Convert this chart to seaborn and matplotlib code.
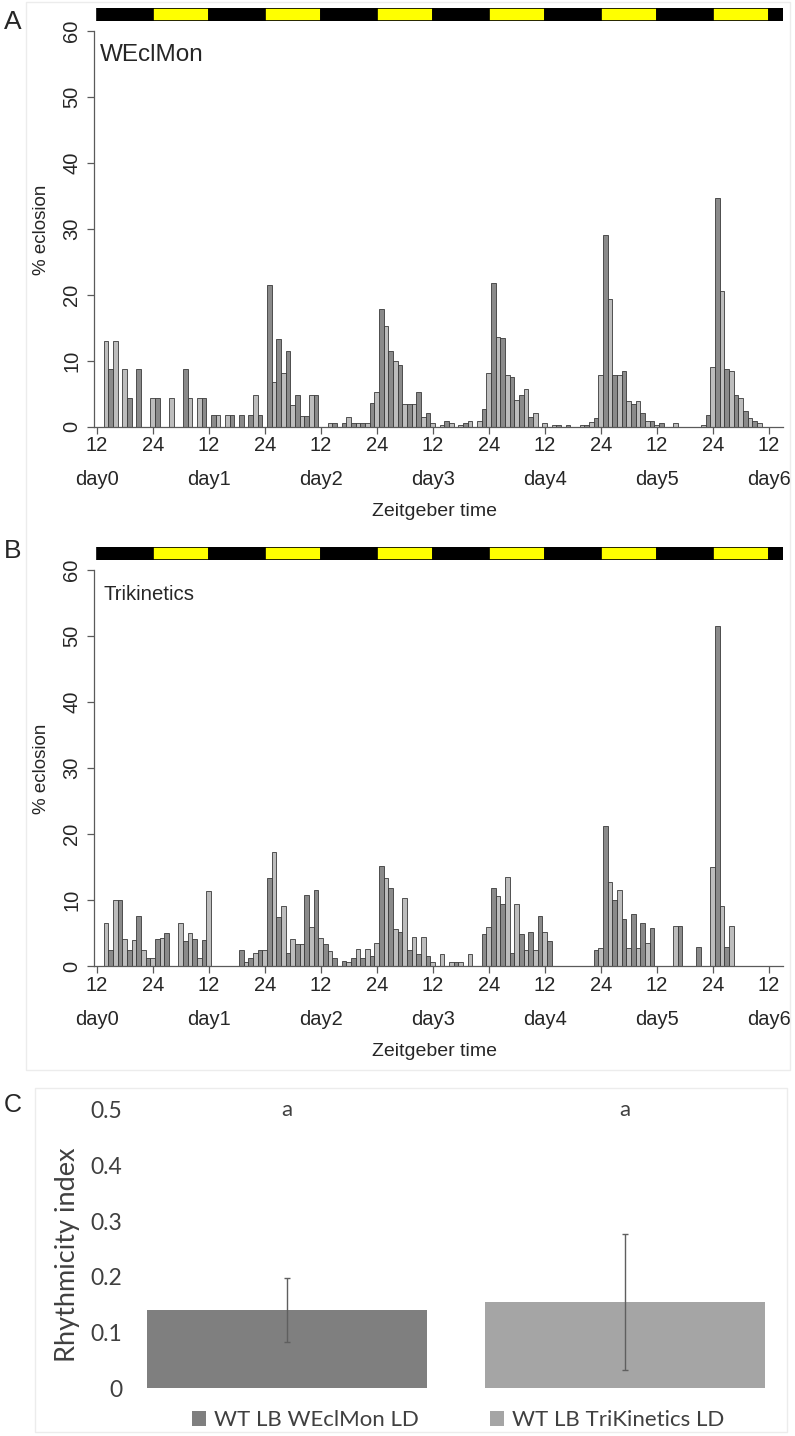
import numpy as np
import pandas as pd
import matplotlib
matplotlib.use("Agg")
import matplotlib.pyplot as plt
from matplotlib.patches import Rectangle, Patch
import seaborn as sns

# ---------------------------------------------------------------
# Hourly eclosion (% of flies), starting at ZT12 of day0.
# One value per hour, 12 values per row (= half a day).
# ---------------------------------------------------------------
weclmon_pct = [
    0, 0, 13.0, 8.7, 13.0, 0, 8.7, 4.3, 0, 8.7, 0, 0,
    4.3, 4.3, 0, 0, 4.3, 0, 0, 8.7, 4.3, 0, 4.3, 4.3,
    0, 1.7, 1.7, 0, 1.7, 1.7, 0, 1.7, 0, 1.7, 4.8, 1.7,
    0, 21.5, 6.7, 13.3, 8.2, 11.5, 3.3, 4.8, 1.6, 1.6, 4.8, 4.8,
    0, 0, 0.5, 0.5, 0, 0.5, 1.5, 0.5, 0.5, 0.5, 0.5, 3.6,
    5.2, 17.9, 15.2, 11.5, 10.0, 9.4, 3.4, 3.4, 3.4, 5.2, 1.5, 2.1,
    0.5, 0, 0.25, 0.9, 0.5, 0, 0.25, 0.6, 0.9, 0, 0.9, 2.7,
    8.2, 21.8, 13.6, 13.5, 7.9, 7.6, 4.0, 4.8, 5.7, 1.5, 2.1, 0,
    0.5, 0, 0.25, 0.25, 0, 0.25, 0, 0, 0.3, 0.3, 0.75, 1.3,
    7.9, 29.0, 19.3, 7.8, 7.8, 8.5, 3.9, 3.4, 3.9, 2.1, 0.9, 0.9,
    0.3, 0.5, 0, 0, 0.5, 0, 0, 0, 0, 0, 0.25, 1.8,
    9.1, 34.6, 20.6, 8.7, 8.4, 4.8, 4.4, 2.4, 1.3, 0.9, 0.5, 0,
]

trikinetics_pct = [
    0, 0, 6.5, 2.5, 10.0, 10.0, 4.1, 2.5, 4.0, 7.6, 2.5, 1.2,
    1.2, 4.1, 4.3, 5.0, 0, 0, 6.5, 3.8, 5.0, 4.1, 1.2, 4.0,
    11.4, 0, 0, 0, 0, 0, 0, 2.5, 0.6, 1.2, 2.0, 2.5,
    2.5, 13.4, 17.3, 7.5, 9.1, 2.0, 4.2, 3.4, 3.4, 10.8, 5.9, 11.6,
    4.3, 3.4, 2.3, 1.2, 0, 0.8, 0.6, 1.2, 2.6, 1.2, 2.6, 1.5,
    3.6, 15.2, 13.4, 11.9, 5.6, 5.2, 10.4, 2.5, 4.5, 1.8, 4.5, 1.5,
    0.6, 0, 1.8, 0, 0.6, 0.6, 0.6, 0, 1.8, 0, 0, 4.9,
    5.9, 11.9, 10.7, 9.5, 13.6, 2.0, 9.5, 4.9, 2.5, 5.2, 2.5, 7.6,
    5.2, 3.8, 0, 0, 0, 0, 0, 0, 0, 0, 0, 2.5,
    2.8, 21.3, 12.7, 10.0, 11.5, 7.2, 2.7, 8.0, 2.7, 6.5, 3.6, 5.8,
    0, 0, 0, 0, 6.1, 6.1, 0, 0, 0, 3.0, 0, 0,
    15.1, 51.5, 9.2, 3.0, 6.1, 0, 0, 0, 0, 0, 0, 0,
]

zt_tick_hours = [0, 12, 24, 36, 48, 60, 72, 84, 96, 108, 120, 132, 144]
zt_tick_labels = ["12", "24", "12", "24", "12", "24", "12", "24",
                  "12", "24", "12", "24", "12"]
day_hours = [0, 24, 48, 72, 96, 120, 144]
day_labels = ["day0", "day1", "day2", "day3", "day4", "day5", "day6"]

# light/dark schedule: night (ZT12-24) black, day (ZT0-12) yellow
ld_starts = [0, 12, 24, 36, 48, 60, 72, 84, 96, 108, 120, 132, 144]
ld_lengths = [12, 12, 12, 12, 12, 12, 12, 12, 12, 12, 12, 12, 3]
ld_colors = ["black", "#ffff00"] * 6 + ["black"]

# Rhythmicity index summary
ri_groups = ["WT LB WEclMon LD", "WT LB TriKinetics LD"]
ri_mean = [0.141, 0.155]
ri_err = [0.057, 0.122]
ri_letters = ["a", "a"]
ri_colors = ["#7f7f7f", "#a5a5a5"]

# ---------------------------------------------------------------
sns.set_theme(style="white")
plt.rcParams["font.family"] = ["Liberation Sans", "DejaVu Sans"]

W, H = 795, 1436
fig = plt.figure(figsize=(W / 100, H / 100), dpi=100)
TXT = "#262626"
AXC = "#5a5a5a"


def axes_px(left, top, right, bottom):
    return fig.add_axes([left / W, 1 - bottom / H, (right - left) / W,
                         (bottom - top) / H])


def text_px(x, y, s, **kw):
    return fig.text(x / W, 1 - y / H, s, **kw)


# faint frames around the panel groups
fig.patches.append(Rectangle((26 / W, 1 - 1070 / H), 764 / W, 1068 / H,
                             transform=fig.transFigure, fill=False,
                             edgecolor="#ececec", linewidth=1))
fig.patches.append(Rectangle((35 / W, 1 - 1432 / H), 752 / W, 344 / H,
                             transform=fig.transFigure, fill=False,
                             edgecolor="#ececec", linewidth=1))

X_LEFT, X_RIGHT = 94, 783
HOUR_PX = 4.667
XMIN = (X_LEFT - 96.7) / HOUR_PX
XMAX = (X_RIGHT - 96.7) / HOUR_PX


def hist_panel(values, y0, ld_top, title, title_size, letter, letter_y):
    y60 = y0 - 396
    ax = axes_px(X_LEFT, y60, X_RIGHT, y0)
    df = pd.DataFrame({"hour": np.arange(len(values)),
                       "pct": np.asarray(values, dtype=float)})
    df["shade"] = np.where(df["hour"] % 2 == 0, "light", "dark")
    df = df[df["pct"] > 0]
    sns.barplot(data=df, x="hour", y="pct", hue="shade",
                palette={"light": "#bdbdbd", "dark": "#8a8a8a"},
                native_scale=True, dodge=False, width=1.0,
                edgecolor="#3a3a3a", linewidth=0.6, errorbar=None,
                legend=False, ax=ax)
    ax.set_xlim(XMIN, XMAX)
    ax.set_ylim(0, 60)
    ax.set_xlabel("")
    ax.set_ylabel("")
    for s in ("top", "right"):
        ax.spines[s].set_visible(False)
    for s in ("left", "bottom"):
        ax.spines[s].set_color(AXC)
        ax.spines[s].set_linewidth(0.9)
    ax.spines["left"].set_bounds(0, 60)

    ax.set_xticks(zt_tick_hours)
    ax.set_xticklabels(zt_tick_labels, fontsize=14.5, color=TXT)
    ax.set_yticks(np.arange(0, 61, 10))
    ax.set_yticklabels([str(v) for v in range(0, 61, 10)], rotation=90,
                       va="center", fontsize=14.5, color=TXT)
    ax.tick_params(axis="both", direction="out", length=5, width=0.9,
                   color=AXC, bottom=True, left=True)
    ax.tick_params(axis="x", pad=2)
    ax.tick_params(axis="y", pad=4)

    for h, lab in zip(day_hours, day_labels):
        ax.annotate(lab, xy=(h, 0), xycoords=("data", "axes fraction"),
                    xytext=(0, -53 * 0.72), textcoords="offset points",
                    ha="center", va="center", fontsize=14.5, color=TXT)
    text_px(434, y0 + 85, "Zeitgeber time", ha="center", va="center",
            fontsize=14, color=TXT)
    text_px(42, y0 - 197, "% eclosion", rotation=90, ha="center",
            va="center", fontsize=13.5, color=TXT)
    text_px(100 if title == "WEclMon" else 103, y60 + 24, title,
            ha="left", va="center", fontsize=title_size, color=TXT)
    text_px(13, letter_y, letter, ha="center", va="center", fontsize=19,
            color=TXT)

    # light/dark schedule bar above the histogram
    ax_ld = axes_px(X_LEFT, ld_top, X_RIGHT, ld_top + 13)
    ax_ld.barh(y=[0.5] * len(ld_starts), width=ld_lengths, left=ld_starts,
               height=1.0, color=ld_colors, edgecolor="black",
               linewidth=1.2)
    ax_ld.set_xlim(XMIN, XMAX)
    ax_ld.set_ylim(0, 1)
    ax_ld.axis("off")
    return ax


hist_panel(weclmon_pct, 426.7, 7.5, "WEclMon", 17.5, "A", 22)
hist_panel(trikinetics_pct, 966.3, 546.5, "Trikinetics", 14.7, "B", 551)

# ---------------------------------------------------------------
# Panel C: rhythmicity index
# ---------------------------------------------------------------
CFONT = ["Lato", "DejaVu Sans"]
axc = axes_px(135, 1110, 770, 1388.3)
ri_df = pd.DataFrame({"group": ri_groups, "ri": ri_mean})
sns.barplot(data=ri_df, x="group", y="ri", hue="group",
            palette=dict(zip(ri_groups, ri_colors)), width=0.83,
            errorbar=None, legend=False, linewidth=0, ax=axc)
axc.errorbar(range(len(ri_groups)), ri_mean, yerr=ri_err, fmt="none",
             ecolor="#5f5f5f", elinewidth=1.0, capsize=2.5, capthick=1.0)
axc.set_xlim((135 - 287) / 338, (770 - 287) / 338)
axc.set_ylim(0, 0.5)
for s in axc.spines.values():
    s.set_visible(False)
axc.set_xticks([])
axc.set_xlabel("")
axc.set_ylabel("")
ri_ticks = [0, 0.1, 0.2, 0.3, 0.4, 0.5]
axc.set_yticks(ri_ticks)
axc.set_yticklabels(["0", "0.1", "0.2", "0.3", "0.4", "0.5"],
                    fontsize=16.5, color="#404040", family=CFONT)
axc.tick_params(axis="y", length=0, pad=9)
for i, lab in enumerate(ri_letters):
    axc.text(i, 0.5, lab, ha="center", va="center", fontsize=16,
             color="#404040", family=CFONT, clip_on=False)
text_px(68, 1255, "Rhythmicity index", rotation=90, ha="center",
        va="center", fontsize=19.5, color="#404040", family=CFONT)
text_px(13, 1105, "C", ha="center", va="center", fontsize=18, color=TXT)

handles = [Patch(facecolor=c, edgecolor="none", label=g)
           for g, c in zip(ri_groups, ri_colors)]
fig.legend(handles=handles, loc="center",
           bbox_to_anchor=(458 / W, 1 - 1420 / H), ncol=2, frameon=False,
           prop={"family": CFONT, "size": 16}, labelcolor="#404040",
           handlelength=0.65, handleheight=0.65, handletextpad=0.35,
           columnspacing=3.2, borderaxespad=0)

fig.savefig("out.png", dpi=100, facecolor="white")
